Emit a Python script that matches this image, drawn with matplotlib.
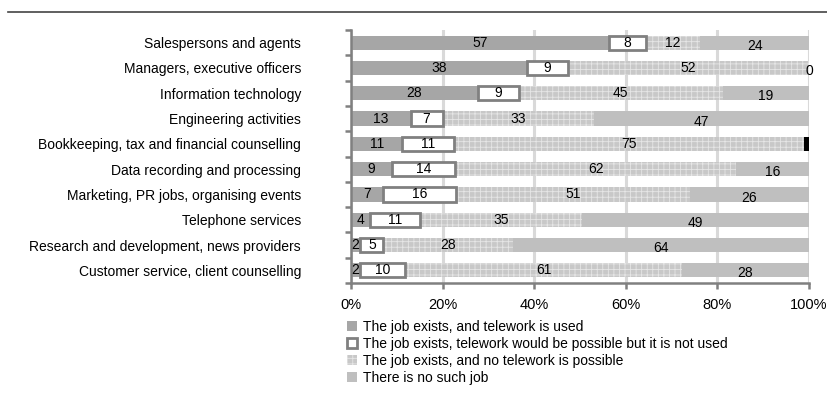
import numpy as np
import matplotlib.pyplot as plt
from matplotlib.patches import Patch
from matplotlib.lines import Line2D

plt.rcParams['font.family'] = ['Liberation Sans', 'DejaVu Sans']
plt.rcParams['hatch.linewidth'] = 0.6

# Data (top to bottom as shown)
categories = [
    "Salespersons and agents",
    "Managers, executive officers",
    "Information technology",
    "Engineering activities",
    "Bookkeeping, tax and financial counselling",
    "Data recording and processing",
    "Marketing, PR jobs, organising events",
    "Telephone services",
    "Research and development, news providers",
    "Customer service, client counselling",
]
used = [57, 38, 28, 13, 11, 9, 7, 4, 2, 2]
possible_not_used = [8, 9, 9, 7, 11, 14, 16, 11, 5, 10]
not_possible = [12, 52, 45, 33, 75, 62, 51, 35, 28, 61]
no_job = [24, 0, 19, 47, 1, 16, 26, 49, 64, 28]
no_job_labels = ["24", "0", "19", "47", "", "16", "26", "49", "64", "28"]

legend_labels = [
    "The job exists, and telework is used",
    "The job exists, telework would be possible but it is not used",
    "The job exists, and no telework is possible",
    "There is no such job",
]

c_used = "#a6a6a6"
c_edge = "#808080"
c_hatch = "#c8c8c8"
c_hatch_line = "#e6e6e6"
c_nojob = "#bfbfbf"

fig = plt.figure(figsize=(8.27, 4.07), dpi=100)
ax = fig.add_axes([351 / 827, 1 - 283 / 407, 458 / 827, 253 / 407])

y = np.arange(len(categories))
totals = np.array(used) + np.array(possible_not_used) + np.array(not_possible) + np.array(no_job)
scale = 100.0 / totals
h = 0.56

w1 = np.array(used) * scale
w2 = np.array(possible_not_used) * scale
w3 = np.array(not_possible) * scale
w4 = np.array(no_job) * scale

ax.barh(y, w1, height=h, color=c_used, zorder=2)
ax.barh(y, w2, left=w1, height=h, color="white", edgecolor=c_edge, linewidth=2, zorder=3)
ax.barh(y, w3, left=w1 + w2, height=h, color=c_hatch, edgecolor=c_hatch_line, hatch="+++",
        linewidth=0, zorder=2)
nj_colors = ["black" if lab == "" else c_nojob for lab in no_job_labels]
ax.barh(y, w4, left=w1 + w2 + w3, height=h, color=nj_colors, zorder=2)

fs = 10
for i in range(len(categories)):
    ax.text(w1[i] / 2, y[i], str(used[i]), ha="center", va="center", fontsize=fs, zorder=5)
    ax.text(w1[i] + w2[i] / 2, y[i], str(possible_not_used[i]), ha="center", va="center",
            fontsize=fs, zorder=5)
    ax.text(w1[i] + w2[i] + w3[i] / 2, y[i], str(not_possible[i]), ha="center", va="center",
            fontsize=fs, zorder=5)
    if no_job_labels[i]:
        ax.annotate(no_job_labels[i], (w1[i] + w2[i] + w3[i] + w4[i] / 2, y[i]),
                    xytext=(0, -2.2), textcoords="offset points",
                    ha="center", va="center", fontsize=fs, zorder=5)

ax.set_xlim(0, 100)
ax.set_ylim(len(categories) - 0.5, -0.5)
ax.set_xticks([0, 20, 40, 60, 80, 100])
ax.set_xticklabels(["0%", "20%", "40%", "60%", "80%", "100%"], fontsize=fs + 0.5)
ax.set_yticks(y)
ax.set_yticklabels(categories, fontsize=fs)
ax.set_yticks(np.arange(-0.5, len(categories)), minor=True)
ax.tick_params(axis="y", which="major", length=0, pad=36)
ax.tick_params(axis="y", which="minor", length=4, width=1.8, color=c_edge)
ax.tick_params(axis="x", length=4, width=1.8, color=c_edge, pad=7)

ax.xaxis.grid(True, color="#d9d9d9", linewidth=2.2, zorder=0)
ax.set_axisbelow(True)
for s in ["top", "right"]:
    ax.spines[s].set_visible(False)
for s in ["left", "bottom"]:
    ax.spines[s].set_color(c_edge)
    ax.spines[s].set_linewidth(1.8)

handles = [
    Patch(facecolor=c_used, edgecolor="none"),
    Patch(facecolor="white", edgecolor=c_edge, linewidth=2),
    Patch(facecolor=c_hatch, edgecolor=c_hatch_line, hatch="+++", linewidth=0),
    Patch(facecolor=c_nojob, edgecolor="none"),
]
fig.legend(handles, legend_labels, loc="upper left", bbox_to_anchor=(347 / 827, 1 - 320 / 407),
           frameon=False, fontsize=fs, handlelength=0.7, handleheight=0.7, handletextpad=0.45,
           labelspacing=0.22, borderpad=0, borderaxespad=0)

# horizontal rule at the top
fig.add_artist(Line2D([8 / 827, 1], [1 - 12 / 407, 1 - 12 / 407], color="#444444", linewidth=1.2))

fig.savefig("out.png", dpi=100)
